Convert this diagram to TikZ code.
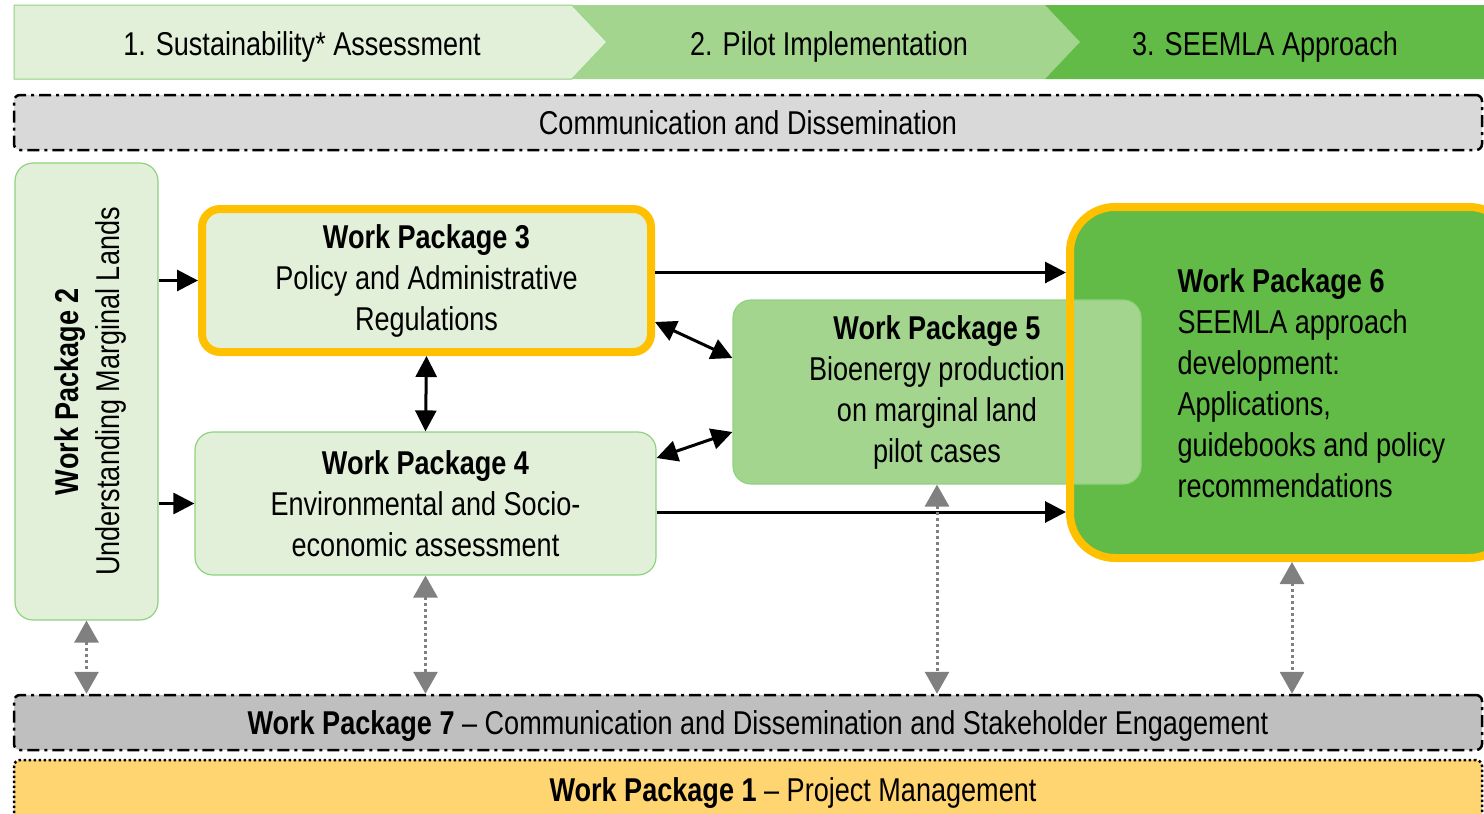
\documentclass[tikz,border=0pt]{standalone}
\usepackage{fontspec}
\setmainfont{Liberation Sans}[FakeStretch=0.82]
\usetikzlibrary{arrows.meta,calc}
\definecolor{palegreen}{HTML}{E2F0D9}
\definecolor{midgreen}{HTML}{A3D58F}
\definecolor{deepgreen}{HTML}{62BB46}
\definecolor{edgegreen}{HTML}{8FD27F}
\definecolor{wporange}{HTML}{FFC000}
\definecolor{lightbar}{HTML}{D9D9D9}
\definecolor{darkbar}{HTML}{BFBFBF}
\definecolor{mgmtyellow}{HTML}{FFD571}
\definecolor{arrowgray}{HTML}{808080}

\begin{document}
\begin{tikzpicture}[
	x=1pt,y=-1pt,
	font=\fontsize{33}{41}\selectfont,
	wp/.style={rectangle,rounded corners=18pt,draw=edgegreen,line width=1.2pt,fill=palegreen,align=center,inner sep=0pt},
	hilite/.style={draw=wporange,line width=8pt},
	bar/.style={rectangle,rounded corners=6pt,draw=black,line width=2.5pt,minimum width=1468pt,minimum height=55pt,inner sep=0pt},
	dashdot/.style={dash pattern=on 12pt off 5pt on 3pt off 5pt},
	flow/.style={line width=3pt,-{Triangle[length=21pt,width=21pt]}},
	link/.style={line width=3pt,{Triangle[length=21pt,width=21pt]}-{Triangle[length=21pt,width=21pt]}},
	feed/.style={draw=arrowgray,line width=3pt,dash pattern=on 3pt off 3pt,
		{Triangle[length=22pt,width=24pt]}-{Triangle[length=22pt,width=24pt]}},
	]
	\useasboundingbox (0,0) rectangle (1484,814);

	% stages
	\fill[palegreen,draw=edgegreen,line width=1pt] (14,5) -- (572,5) -- (607,42) -- (572,79) -- (14,79) -- cycle;
	\fill[midgreen] (572,5) -- (1045,5) -- (1080,42) -- (1045,79) -- (572,79) -- (607,42) -- cycle;
	\fill[deepgreen] (1045,5) -- (1484,5) -- (1484,79) -- (1045,79) -- (1080,42) -- cycle;
	\node (stage1) at (302,47) {1. Sustainability* Assessment};
	\node (stage2) at (829,47) {2. Pilot Implementation};
	\node (stage3) at (1265,47) {3. SEEMLA Approach};

	\node [bar,dashdot,fill=lightbar] (comm) at (748,122.5) {Communication and Dissemination};

	% work packages
	\node [wp,minimum width=143pt,minimum height=457pt] (wp2) at (86.5,391.5) {};
	\node [rotate=90,align=center] (wp2text) at ([xshift=4pt]wp2.center) {\textbf{Work Package 2}\\Understanding Marginal Lands};
	\node [wp,hilite,minimum width=449pt,minimum height=143pt] (wp3) at (426.5,280.5)
		{\textbf{Work Package 3}\\Policy and Administrative\\Regulations};
	\node [wp,minimum width=461pt,minimum height=143pt] (wp4) at (425.5,503.5)
		{\textbf{Work Package 4}\\Environmental and Socio-\\economic assessment};
	\node [rectangle,rounded corners=45pt,fill=deepgreen,line width=8pt,minimum width=444pt,minimum height=351pt] (wp6) at (1292,382.5) {};

	\draw [flow] (wp2.east |- wp3.west) -- (wp3.west);
	\draw [flow] (wp2.east |- wp4.west) -- (wp4.west);
	\draw [link] (wp3.south) -- (wp4.north);
	\draw [flow] ([yshift=8pt]wp3.east) -- ([yshift=8pt]wp3.east -| wp6.west);
	\draw [flow] ([yshift=-8.5pt]wp4.east) -- ([yshift=-8.5pt]wp4.east -| wp6.west);

	\node [wp,fill=midgreen,minimum width=408pt,minimum height=184pt] (wp5) at (937,392)
		{\textbf{Work Package 5}\\Bioenergy production\\on marginal land\\pilot cases\rule[-4pt]{0pt}{1pt}};
	\draw [link] ([yshift=-41.5pt]wp3.east) -- ([yshift=34pt]wp5.west);
	\draw [link] ([yshift=45.5pt]wp4.east) -- ([yshift=-40pt]wp5.west);

	\node [rectangle,rounded corners=45pt,hilite,minimum width=444pt,minimum height=351pt] (wp6frame) at (wp6.center) {};
	\node [anchor=west,align=left] (wp6text) at (1174,383.5)
		{\textbf{Work Package 6}\\SEEMLA approach\\development:\\Applications,\\guidebooks and policy\\recommendations};

	% cross-cutting packages
	\node [bar,dashdot,fill=darkbar] (wp7) at (748,722.5) {};
	\node (wp7text) at ([xshift=10pt,yshift=-4pt]wp7.center)
		{\textbf{Work Package 7} \textendash{} Communication and Dissemination and Stakeholder Engagement};
	\node [bar,dash pattern=on 2.5pt off 2.5pt,fill=mgmtyellow,minimum height=60pt] (wp1) at (748,790) {};
	\node (wp1text) at (793,793) {\textbf{Work Package 1} \textendash{} Project Management};

	\draw [feed] (wp2.south) -- (wp2.south |- wp7.north);
	\draw [feed] (wp4.south) -- (wp4.south |- wp7.north);
	\draw [feed] (wp5.south) -- (wp5.south |- wp7.north);
	\draw [feed] (wp6frame.south) -- (wp6frame.south |- wp7.north);
\end{tikzpicture}
\end{document}
